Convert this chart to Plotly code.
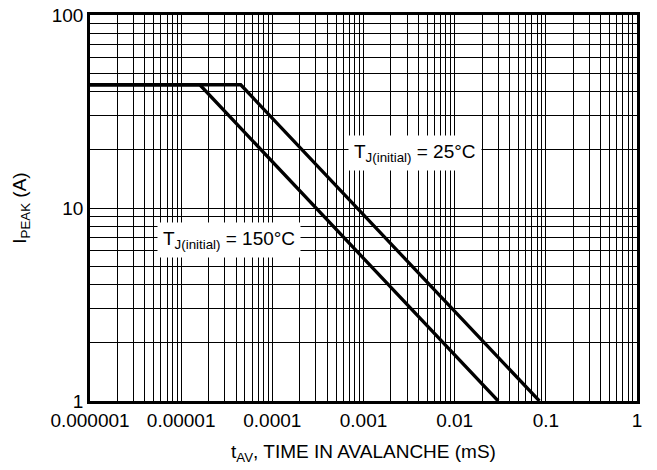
import plotly.graph_objects as go

# Data
t_25 = [1e-6, 4.5e-5, 0.085]
i_25 = [43.5, 43.5, 1.0]
t_150 = [1e-6, 1.6e-5, 0.030]
i_150 = [43.5, 43.5, 1.0]

x_ticks = [1e-6, 1e-5, 1e-4, 1e-3, 1e-2, 1e-1, 1]
x_labels = ["0.000001", "0.00001", "0.0001", "0.001", "0.01", "0.1", "1"]
y_ticks = [1, 10, 100]
y_labels = ["1", "10", "100"]

x_minor = [m * d for d in x_ticks[:-1] for m in range(2, 10)]
y_minor = [m * d for d in y_ticks[:-1] for m in range(2, 10)]

FONT = "Liberation Sans, Arial, sans-serif"

fig = go.Figure()
fig.add_trace(go.Scatter(x=t_25, y=i_25, mode="lines",
                         line=dict(color="black", width=3.3), showlegend=False))
fig.add_trace(go.Scatter(x=t_150, y=i_150, mode="lines",
                         line=dict(color="black", width=3.3), showlegend=False))

fig.add_annotation(x=-2.44, y=1.285, xref="x", yref="y",
                   text="T<sub>J(initial)</sub> = 25°C", showarrow=False,
                   font=dict(family=FONT, size=19, color="black"),
                   bgcolor="white", borderpad=5)
fig.add_annotation(x=-4.47, y=0.834, xref="x", yref="y",
                   text="T<sub>J(initial)</sub> = 150°C", showarrow=False,
                   font=dict(family=FONT, size=19, color="black"),
                   bgcolor="white", borderpad=5)

axis_common = dict(
    type="log", showline=True, linecolor="black", mirror=True,
    showgrid=True, gridcolor="black", gridwidth=1,
    ticks="", zeroline=False, automargin=False,
    ticklabeloverflow="allow",
    tickfont=dict(family=FONT, size=19, color="black"),
)

fig.update_xaxes(**axis_common, range=[-6, 0], tickvals=x_ticks, ticktext=x_labels,
                 linewidth=2.5,
                 minor=dict(tickvals=x_minor, showgrid=True, gridcolor="black", gridwidth=1, ticks=""),
                 title=dict(text="t<sub>AV</sub>, TIME IN AVALANCHE (mS)",
                            font=dict(family=FONT, size=19, color="black"), standoff=16))
fig.update_yaxes(**axis_common, range=[0, 2], tickvals=y_ticks, ticktext=y_labels,
                 linewidth=2.5,
                 minor=dict(tickvals=y_minor, showgrid=True, gridcolor="black", gridwidth=1, ticks=""),
                 title=dict(text="I<sub>PEAK</sub> (A)",
                            font=dict(family=FONT, size=19, color="black"), standoff=21))

fig.update_layout(
    width=657, height=470,
    margin=dict(l=90, r=20, t=15, b=69, autoexpand=False),
    plot_bgcolor="white", paper_bgcolor="white",
    font=dict(family=FONT, color="black"),
)

fig.write_html("out.html", config={"displayModeBar": False},
               post_script="document.body.style.margin='0';document.body.style.padding='0';")
